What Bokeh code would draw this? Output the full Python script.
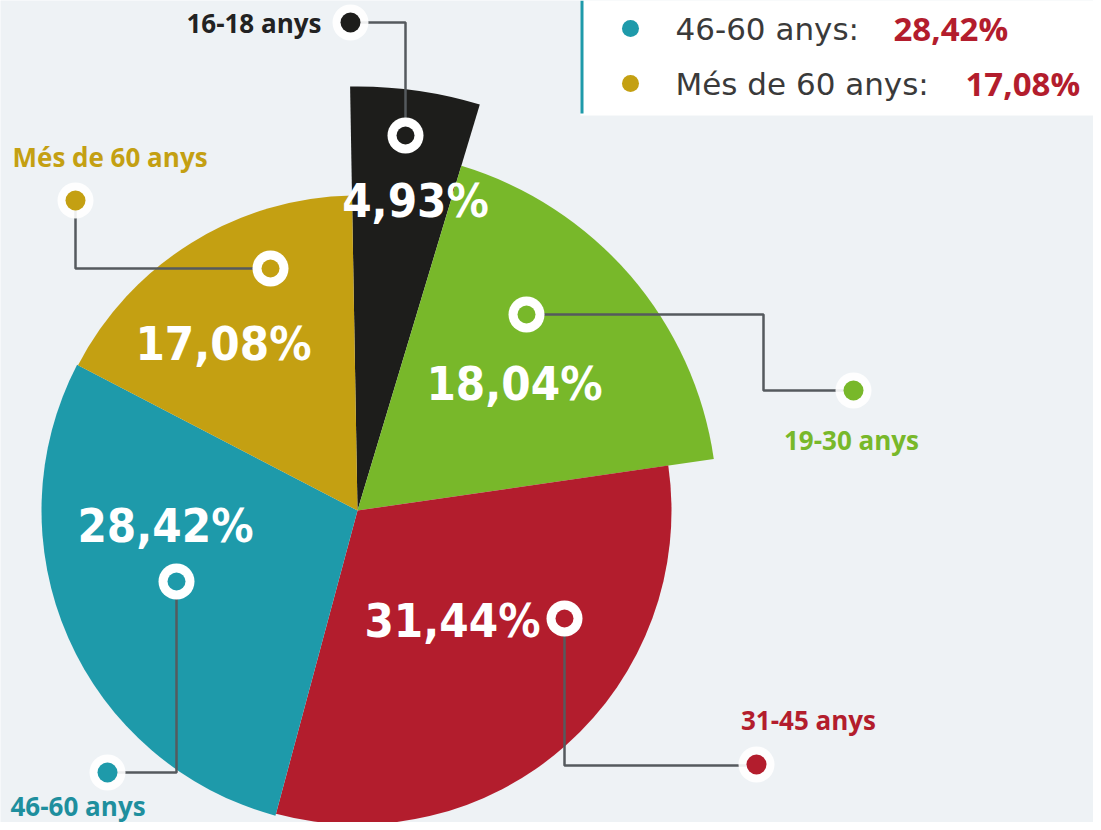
import math
from bokeh.plotting import figure
from bokeh.models import Range1d
from bokeh.core.properties import value
from bokeh.embed import file_html
from bokeh.resources import INLINE

# ---- data ----
categories = ["16-18 anys", "19-30 anys", "31-45 anys", "46-60 anys", "Més de 60 anys"]
percentages = [4.93, 18.04, 31.44, 28.42, 17.08]
legend_categories = ["46-60 anys", "Més de 60 anys"]
legend_values = [28.42, 17.08]

# ---- styles ----
colors = ["#1d1d1b", "#78b82a", "#b31d2d", "#1e9aaa", "#c4a012"]
label_colors = ["#222222", "#78b82a", "#b31d2d", "#1e8f9e", "#c4a012"]
radii = [424, 360, 314, 316, 315]
BG = "#eef2f5"

W, H = 1093, 822
def Y(py):
    return 830 - py

p = figure(width=W, height=H, output_backend="svg", toolbar_location=None,
           x_range=Range1d(0, W), y_range=Range1d(Y(H), Y(0)),
           min_border=0, background_fill_color=BG, border_fill_color=BG,
           outline_line_color=None)
p.axis.visible = False
p.grid.visible = False

CX, CY = 357, Y(510)
offset = -1.0  # degrees, clockwise from 12 o'clock
total = sum(percentages)
starts, ends = [], []
cum = 0.0
for v in percentages:
    a0 = offset + 360 * cum / total
    cum += v
    a1 = offset + 360 * cum / total
    starts.append(math.radians(90 - a0))
    ends.append(math.radians(90 - a1))

p.wedge(x=[CX] * 5, y=[CY] * 5, radius=radii, start_angle=starts, end_angle=ends,
        direction="clock", fill_color=colors, line_color=None)

# ---- leader lines, rings, end dots, labels (layout positions in px) ----
layout = [
    dict(ring=(405, 135), path=[(405, 135), (405, 22), (350, 22)], dot=(350, 22),
         lab=(321, 22), align="right"),
    dict(ring=(526, 314), path=[(526, 314), (763, 314), (763, 390), (853, 390)], dot=(853, 390),
         lab=(851, 439), align="center"),
    dict(ring=(564, 618), path=[(564, 618), (564, 765), (756, 765)], dot=(756, 764),
         lab=(808, 719), align="center"),
    dict(ring=(176, 581), path=[(176, 581), (176, 772), (107, 772)], dot=(107, 772),
         lab=(10, 805), align="left"),
    dict(ring=(270, 268), path=[(270, 268), (75, 268), (75, 200)], dot=(75, 200),
         lab=(12, 156), align="left"),
]

for i, L in enumerate(layout):
    xs = [pt[0] for pt in L["path"]]
    ys = [Y(pt[1]) for pt in L["path"]]
    p.line(xs, ys, line_color="#555a5e", line_width=2.5)

for i, L in enumerate(layout):
    rx, ry = L["ring"]
    p.scatter([rx], [Y(ry)], size=36, marker="circle", fill_color="white", line_color=None)
    p.scatter([rx], [Y(ry)], size=18, marker="circle", fill_color=colors[i], line_color=None)
    dx, dy = L["dot"]
    p.scatter([dx], [Y(dy)], size=36, marker="circle", fill_color="white", fill_alpha=0.9, line_color=None)
    p.scatter([dx], [Y(dy)], size=20, marker="circle", fill_color=colors[i], line_color=None)
    lx, ly = L["lab"]
    p.text([lx], [Y(ly)], text=[categories[i]], text_font=value("Open Sans"), text_font_style="bold",
           text_font_size="26px", text_color=label_colors[i], text_align=L["align"],
           text_baseline="middle")

# ---- percentage labels inside slices ----
pct_pos = [(415, 200), (514, 383), (452, 620), (165, 525), (223, 343)]
for i, (px, py) in enumerate(pct_pos):
    txt = f"{percentages[i]:.2f}".replace(".", ",") + "%"
    p.text([px], [Y(py)], text=[txt], text_font=value("DejaVu Sans Condensed"),
           text_font_style="bold", text_font_size="47px", text_color="white",
           text_align="center", text_baseline="middle")

# ---- legend box (cropped at top) ----
p.quad(left=[580], right=[1101], top=[Y(0)], bottom=[Y(115)], fill_color="white", line_color=None)
p.line([581.5, 581.5], [Y(0), Y(113)], line_color="#1e9aaa", line_width=3)
leg_rows = [28, 83]
val_x = [893, 965]
for j, cat in enumerate(legend_categories):
    idx = categories.index(cat)
    yy = Y(leg_rows[j])
    p.scatter([630], [yy], size=17, marker="circle", fill_color=colors[idx], line_color=None)
    p.text([675], [yy], text=[cat + ":"], text_font=value("DejaVu Sans"), text_font_size="31px",
           text_color="#3a3a3a", text_baseline="middle")
    vtxt = f"{legend_values[j]:.2f}".replace(".", ",") + "%"
    p.text([val_x[j]], [yy], text=[vtxt], text_font=value("Open Sans"), text_font_style="bold",
           text_font_size="33px", text_color="#b31d2d", text_baseline="middle")

open("out.html", "w").write(file_html(p, INLINE))
